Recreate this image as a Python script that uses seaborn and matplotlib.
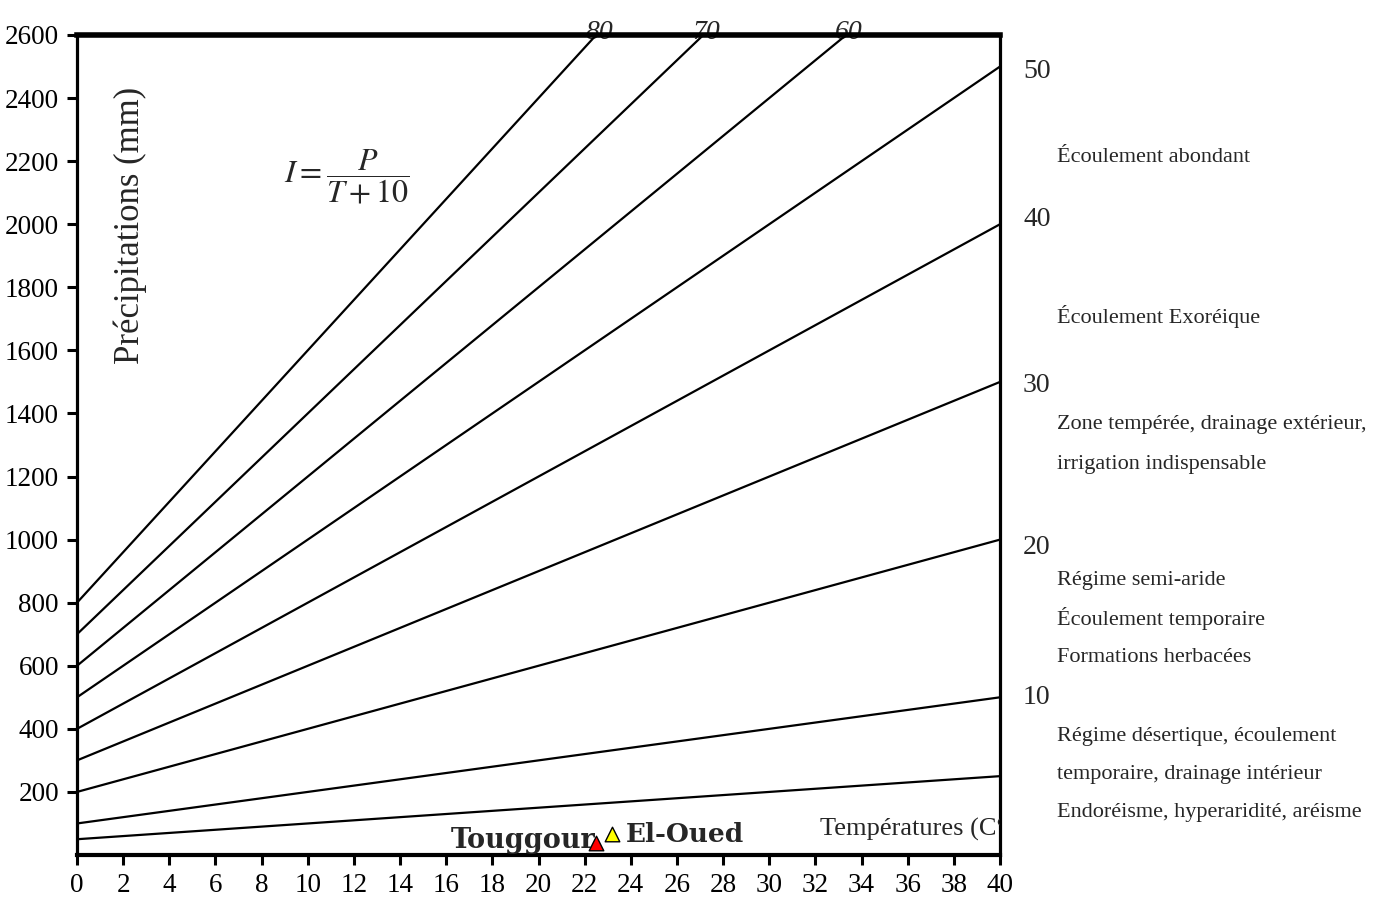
import numpy as np
import pandas as pd
import matplotlib
matplotlib.use("Agg")
import matplotlib.pyplot as plt
import seaborn as sns

# De Martonne index lines, read at T=0 and T=40
indices = [5, 10, 20, 30, 40, 50, 60, 70, 80]
p_at_0 = [50, 100, 200, 300, 400, 500, 600, 700, 800]
p_at_40 = [250, 500, 1000, 1500, 2000, 2500, 3000, 3500, 4000]
t_ends = [0, 40]

stations = ["Touggour", "El-Oued"]
st_temp = [22.5, 23.2]
st_prec = [38, 67]
st_colors = ["red", "yellow"]

right_nums = ["50", "40", "30", "20", "10"]
right_num_y = [72, 220, 385, 547, 697]
zone_text = ["Écoulement abondant", "Écoulement Exoréique",
             "Zone tempérée, drainage extérieur,", "irrigation indispensable",
             "Régime semi-aride", "Écoulement temporaire", "Formations herbacées",
             "Régime désertique, écoulement", "temporaire, drainage intérieur",
             "Endoréisme, hyperaridité, aréisme"]
zone_y = [158, 316, 425, 465, 580, 619, 657, 737, 775, 813]

rows = []
for i, a, b in zip(indices, p_at_0, p_at_40):
    rows.append({"I": i, "T": t_ends[0], "P": a})
    rows.append({"I": i, "T": t_ends[1], "P": b})
df = pd.DataFrame(rows)

sns.set_style("ticks")
plt.rcParams['font.family'] = ['Liberation Serif', 'DejaVu Serif']
plt.rcParams['mathtext.fontset'] = 'stix'

W, H = 1376, 911
fig = plt.figure(figsize=(W / 100, H / 100), dpi=100)
ax = fig.add_axes([77 / W, 1 - 855 / H, (1000 - 77) / W, (855 - 35) / H])

sns.lineplot(data=df, x="T", y="P", units="I", estimator=None,
             color="black", linewidth=1.6, ax=ax, legend=False)

ax.set_xlim(0, 40)
ax.set_ylim(0, 2600)
ax.set_xticks(range(0, 41, 2))
ax.set_yticks(range(200, 2601, 200))
ax.tick_params(axis="both", direction="out", length=7, width=2.2,
               labelsize=19.5, colors="black")
ax.tick_params(axis="y", pad=6)
ax.tick_params(axis="x", pad=6)
ax.set_xlabel("")
ax.set_ylabel("")
for s, lw in zip(["top", "left", "bottom", "right"], [4.0, 2.3, 3.0, 2.3]):
    ax.spines[s].set_visible(True)
    ax.spines[s].set_linewidth(lw)
    ax.spines[s].set_color("black")

# labels of the steep lines where they leave through the top
for i, a, b in zip(indices, p_at_0, p_at_40):
    if b > 2600:
        tc = 40 * (2600 - a) / (b - a)
        ax.annotate(str(i), xy=(tc, 2600), xytext=(2, -3), textcoords="offset points",
                    ha="center", va="baseline", fontsize=20, style="italic",
                    annotation_clip=False, zorder=1)

# stations
for name, t, p, c in zip(stations, st_temp, st_prec, st_colors):
    ax.scatter(t, p, marker="^", s=110, color=c, edgecolor="black",
               linewidth=1.0, zorder=5, clip_on=False)
ax.text(st_temp[0] - 0.05, 22, stations[0], ha="right", va="baseline",
        fontsize=19.5, fontweight="bold", family="DejaVu Serif", zorder=4)
ax.text(st_temp[1] + 0.6, 40, stations[1], ha="left", va="baseline",
        fontsize=19, fontweight="bold", family="DejaVu Serif", zorder=4)

ax.text(32.2, 60, "Températures (C°)", ha="left", va="baseline",
        fontsize=19, clip_on=True)
ax.text(11.7, 2150, r"$I=\dfrac{P}{T+10}$", ha="center", va="center", fontsize=23)

fig.text(130 / W, 1 - 225 / H, "Précipitations (mm)", rotation=90,
         ha="center", va="center", fontsize=25)

for n, y in zip(right_nums, right_num_y):
    fig.text(1023 / W, 1 - y / H, n, ha="left", va="center", fontsize=20)
for t, y in zip(zone_text, zone_y):
    fig.text(1057 / W, 1 - y / H, t, ha="left", va="center", fontsize=16)

fig.savefig("out.png", dpi=100)
